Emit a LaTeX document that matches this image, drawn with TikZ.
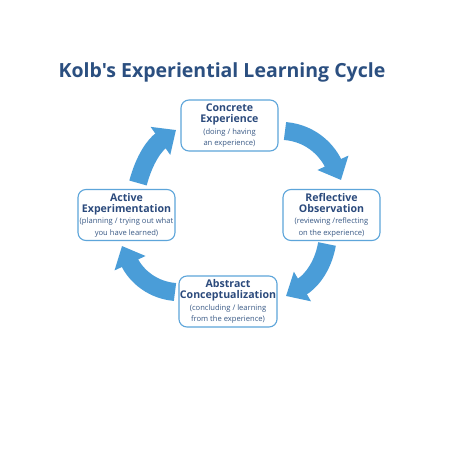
\documentclass[tikz,border=0pt]{standalone}
\usepackage{fontspec}
\setmainfont{Open Sans}[Ligatures=TeXOff]
\usetikzlibrary{arrows.meta}
\definecolor{titleblue}{HTML}{2B4F80}
\definecolor{textblue}{HTML}{2B4A7C}
\definecolor{subblue}{HTML}{3A5A86}
\definecolor{boxline}{HTML}{5DA5DA}
\definecolor{arrowblue}{HTML}{4A9DD8}
\newcommand\boxhead{\bfseries\fontsize{10.6}{11.3}\selectfont}
\newcommand\boxsub{\mdseries\fontsize{7.6}{11.3}\selectfont\color{subblue}}
\begin{document}
\begin{tikzpicture}[x=1pt,y=1pt,
  box/.style={draw=boxline, line width=1.1pt, rounded corners=8pt, fill=white,
    minimum width=97pt, inner xsep=1pt, inner ysep=0pt, minimum height=51pt,
    align=center, text=textblue, font=\fontsize{10.6}{11.3}\selectfont},
  cyc/.style={draw=arrowblue, line width=18pt, -{Triangle[width=33pt,length=19pt]}}]
\useasboundingbox (0,0) rectangle (452,456);
\fill[white] (0,0) rectangle (452,456);

\node[font=\bfseries\fontsize{19.5}{22}\selectfont, text=titleblue, anchor=base] (title) at (222,378) {Kolb's Experiential Learning Cycle};

\node[box] (ce) at (229.5,330.5) {\boxhead Concrete\\ \boxhead Experience\\ \boxsub (doing / having\\ \boxsub an experience)};
\node[box] (ro) at (331.5,241) {\boxhead Reflective\\ \boxhead Observation\\ \boxsub (reviewing /reflecting\\ \boxsub on the experience)};
\node[box] (ac) at (228,154.5) {\boxhead Abstract\\ \boxhead Conceptualization\\ \boxsub (concluding / learning\\ \boxsub from the experience)};
\node[box] (ae) at (126.5,241) {\boxhead Active\\ \boxhead Experimentation\\ \boxsub (planning / trying out what\\ \boxsub you have learned)};

\coordinate (a1s) at (285,325);
\coordinate (a1e) at (341,276);
\coordinate (a2s) at (327,212);
\coordinate (a2e) at (286,160);
\coordinate (a3s) at (175,164);
\coordinate (a3e) at (122,210);
\coordinate (a4s) at (138,273);
\coordinate (a4e) at (176,326);

\draw[cyc] (a1s) to[out=-5,in=115] (a1e);
\draw[cyc] (a2s) to[out=-100,in=30] (a2e);
\draw[cyc] (a3s) to[out=175,in=-65] (a3e);
\draw[cyc] (a4s) to[out=75,in=215] (a4e);
\end{tikzpicture}
\end{document}
